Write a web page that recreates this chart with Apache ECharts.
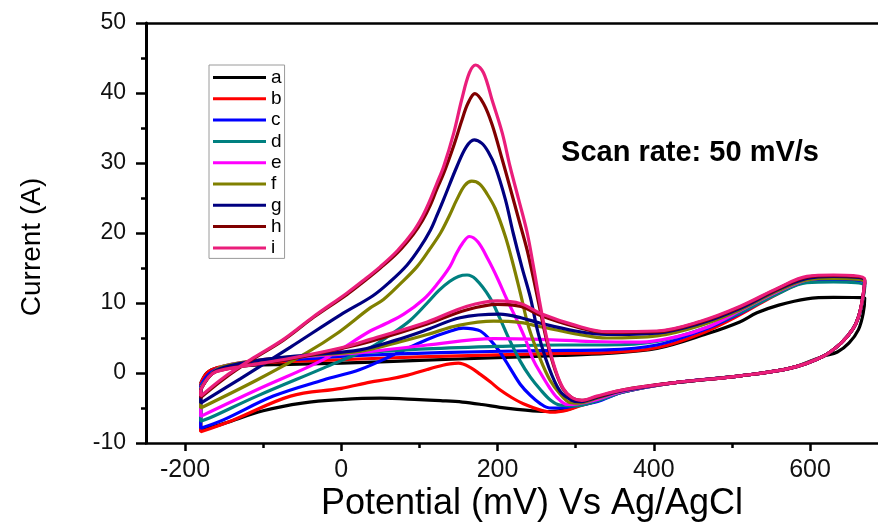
<!DOCTYPE html>
<html>
<head>
<meta charset="utf-8">
<script src="https://cdn.jsdelivr.net/npm/echarts@6/dist/echarts.min.js"></script>
<style>
html,body{margin:0;padding:0;background:#fff;}
#chart{width:878px;height:527px;}
</style>
</head>
<body>
<div id="chart"></div>
<script>
// ---- data (potential mV, current A), each loop ----
const seriesNames = ['a','b','c','d','e','f','g','h','i'];
const seriesColors = ['#000000','#ff0000','#0000ff','#008080','#ff00ff','#808000','#000080','#800000','#ea1e7b'];

const curveA = [[-180,-1.5],[-172,0],[-160,0.7],[-130,1.0],[-80,1.2],[0,1.4],[100,1.8],[200,2.2],[280,2.5],[340,2.8],[404,3.5],[468,5.6],[510,7.3],[532,8.6],[560,9.7],[596,10.6],[630,10.8],[670,10.7],
  [668,8.5],[662,6.2],[650,4.3],[635,3.0],[617,2.4],[575,0.7],[511,-0.4],[425,-1.4],[361,-2.5],[327,-3.5],[305,-4.6],[290,-5.2],[267,-5.5],[245,-5.4],[225,-5.2],[203,-4.9],[180,-4.5],[155,-4.15],[127,-3.95],[100,-3.8],[50,-3.6],[0,-3.8],[-50,-4.3],[-100,-5.4],[-150,-7.2],[-180,-8.2],[-180,-1.5]];

const curveB = [[-180,-1.5],[-170,0.2],[-150,1.0],[-100,1.5],[0,1.9],[100,2.3],[200,2.6],[280,2.8],[340,2.9],[404,3.6],[460,5.6],[510,8.3],[560,11.4],[596,13.1],[630,13.4],[670,13.0],
  [667,10.3],[662,8.0],[655,6.3],[640,4.3],[617,2.4],[575,0.7],[511,-0.4],[425,-1.4],[361,-2.7],[327,-4.0],[305,-4.7],[289,-5.3],[270,-5.6],[255,-5.3],[233,-4.4],[218,-3.5],[203,-2.4],[191,-1.3],[178,-0.2],[165,0.8],[150,1.4],[139,1.3],[130,1.1],[110,0.5],[85,-0.3],[60,-0.9],[37,-1.3],[0,-2.2],[-65,-3.3],[-138,-6.7],[-180,-8.4],[-180,-1.5]];

const curveC = [[-180,-1.8],[-168,0],[-150,0.9],[-100,1.6],[-23,2.2],[24,2.5],[127,2.9],[255,3.2],[340,3.3],[404,4.0],[460,6.0],[510,8.5],[560,11.5],[596,13.1],[630,13.3],[670,12.8],
  [667,10.3],[662,8.0],[655,6.3],[640,4.3],[617,2.4],[575,0.7],[511,-0.4],[425,-1.4],[361,-2.7],[327,-4.1],[298,-4.7],[280,-5.0],[267,-5.0],[255,-4.4],[242,-3.2],[229,-1.6],[216,0.7],[203,3.0],[190,4.8],[178,6.0],[168,6.3],[156,6.4],[140,6.0],[110,4.8],[67,2.6],[24,0.5],[-23,-1.0],[-87,-3.3],[-151,-6.7],[-180,-7.9],[-180,-1.8]];

const curveD = [[-180,-2.0],[-165,0],[-150,1.0],[-100,1.8],[0,2.7],[100,3.4],[200,3.8],[280,4.0],[340,4.0],[404,4.5],[460,6.2],[510,8.6],[560,11.4],[596,12.9],[630,13.0],[670,12.4],
  [667,10.2],[662,8.0],[655,6.3],[640,4.3],[617,2.4],[575,0.7],[511,-0.4],[425,-1.4],[361,-2.7],[327,-4.0],[298,-4.7],[280,-4.6],[268,-3.9],[255,-2.4],[242,-0.6],[229,1.7],[215,4.8],[203,7.8],[190,10.8],[172,13.4],[161,14.0],[150,13.8],[139,13.1],[125,11.8],[110,10.0],[88,7.5],[62,5.4],[37,3.6],[-23,0.7],[-108,-3.3],[-168,-6.4],[-180,-6.9],[-180,-2.0]];

const curveE = [[-180,-2.2],[-165,0],[-150,1.0],[-100,1.9],[-40,2.4],[24,2.9],[110,4.0],[195,4.9],[255,4.8],[320,4.5],[383,4.4],[430,5.2],[470,6.6],[510,8.9],[560,11.7],[596,13.3],[630,13.6],[670,13.1],
  [667,10.4],[662,8.0],[655,6.3],[640,4.3],[617,2.4],[575,0.7],[511,-0.4],[425,-1.4],[361,-2.6],[327,-3.8],[302,-4.4],[289,-4.5],[276,-3.5],[266,-2.0],[255,0],[246,1.8],[235,5.0],[225,7.5],[212,10.5],[200,13.5],[188,16.2],[175,18.7],[164,19.5],[155,18.5],[147,17.0],[139,15.2],[122,12.6],[105,10.5],[80,8.4],[58,7.1],[37,6.0],[-23,1.9],[-108,-2.4],[-180,-6.2],[-180,-2.2]];

const curveF = [[-180,-2.3],[-165,0],[-150,1.0],[-100,1.9],[-40,2.5],[24,3.1],[70,4.3],[110,5.5],[150,6.8],[195,7.4],[230,7.2],[255,6.6],[300,5.6],[340,5.0],[404,5.3],[460,6.8],[510,9.0],[560,11.8],[596,13.3],[630,13.5],[670,12.9],
  [667,10.3],[662,8.0],[655,6.3],[640,4.3],[617,2.4],[575,0.7],[511,-0.4],[425,-1.4],[361,-2.5],[327,-3.6],[303,-4.3],[292,-4.2],[280,-3.0],[267,-1.0],[255,1.9],[240,6.5],[229,11.5],[220,15.5],[210,19.5],[197,23.5],[187,25.5],[177,27.0],[167,27.4],[158,26.8],[148,24.8],[138,22.4],[127,20],[112,17.5],[97,15.2],[76,12.8],[54,10.5],[37,9.3],[-6,5.6],[-44,2.9],[-108,-1.0],[-180,-5.0],[-180,-2.3]];

const curveG = [[-180,-2.4],[-168,-0.3],[-150,0.8],[-100,1.9],[-40,2.6],[24,3.3],[70,4.7],[110,6.2],[152,7.9],[203,8.4],[230,7.9],[255,7.1],[300,6.0],[340,5.5],[404,5.7],[460,7.1],[510,9.2],[560,12.0],[596,13.5],[630,13.8],[670,13.2],
  [667,10.4],[662,8.0],[655,6.3],[640,4.3],[617,2.4],[575,0.7],[511,-0.4],[425,-1.4],[361,-2.5],[327,-3.5],[305,-4.1],[295,-3.9],[280,-2.6],[265,1.0],[252,5.7],[242,10.8],[231,15.2],[220,20],[210,24.8],[197,29.5],[188,31.6],[180,32.8],[170,33.3],[160,32.3],[148,29.5],[131,24.8],[122,22.4],[114,20.4],[100,17.8],[84,15.4],[62,13.0],[40,11],[-1,8.3],[-65,3.7],[-129,-0.8],[-180,-4.3],[-180,-2.4]];

const curveH = [[-180,-2.4],[-170,-0.6],[-160,0.2],[-130,0.9],[-65,2.0],[0,3.5],[37,4.5],[110,7.0],[160,9.0],[200,9.8],[230,9.5],[255,8.2],[300,6.6],[340,5.8],[404,5.9],[460,7.3],[510,9.4],[560,12.1],[596,13.7],[630,13.9],[670,13.3],
  [667,10.5],[662,8.0],[655,6.3],[640,4.3],[617,2.4],[575,0.7],[511,-0.4],[425,-1.4],[361,-2.4],[327,-3.4],[308,-3.9],[296,-3.6],[284,-2.3],[274,0.3],[263,4.6],[255,8.7],[246,13.5],[238,17.5],[227,22],[216,26.5],[206,30.5],[193,35.5],[182,38.5],[171,39.9],[162,38.5],[154,36],[144,32.5],[131,28.5],[122,26.2],[114,24],[104,21.8],[92,19.8],[72,17.2],[50,15],[28,13.0],[7,11.2],[-35,8.0],[-74,4.7],[-116,1.8],[-150,-0.8],[-180,-3.5],[-180,-2.4]];

const curveI = [[-180,-2.4],[-170,-0.6],[-160,0.2],[-130,0.9],[-65,2.1],[0,3.6],[37,4.8],[110,7.3],[160,9.5],[200,10.3],[230,9.9],[255,8.5],[300,6.8],[340,5.9],[404,6.0],[460,7.4],[510,9.5],[560,12.2],[596,13.8],[630,14.0],[670,13.4],
  [667,10.5],[662,8.0],[655,6.3],[640,4.3],[617,2.4],[575,0.7],[511,-0.4],[425,-1.4],[361,-2.4],[327,-3.3],[308,-3.9],[295,-3.5],[284,-2.2],[274,0.5],[263,5.0],[255,9.5],[246,15.2],[238,20],[227,24.8],[216,29.5],[206,34.3],[193,39],[182,42.9],[172,44.0],[164,42.9],[154,39],[144,34.3],[131,29.5],[122,27.0],[114,24.8],[104,22.4],[92,20.2],[72,17.5],[50,15.2],[28,13.2],[7,11.4],[-35,8.1],[-74,4.8],[-116,1.9],[-150,-0.6],[-180,-3.3],[-180,-2.4]];

const curves = [curveA, curveB, curveC, curveD, curveE, curveF, curveG, curveH, curveI];

const xMajorTicks = [-200, 0, 200, 400, 600];
const xMinorTicks = [-100, 100, 300, 500];
const xRange = [-250, 687];
const yRange = [-10, 50];
const yStep = 10;

const xTitle = 'Potential (mV) Vs Ag/AgCl';
const yTitle = 'Current (A)';
const note = 'Scan rate: 50 mV/s';

// ---- chart ----
const FONT = '"Liberation Sans", Arial, Helvetica, sans-serif';
const chart = echarts.init(document.getElementById('chart'), null, {renderer: 'canvas'});

const series = curves.map((c, i) => ({
  name: seriesNames[i],
  type: 'line',
  data: c,
  xAxisIndex: 0,
  yAxisIndex: 0,
  smooth: 0.35,
  symbol: 'none',
  showSymbol: false,
  clip: true,
  lineStyle: {color: seriesColors[i], width: 3.2},
  itemStyle: {color: seriesColors[i]},
  emphasis: {disabled: true},
  z: 2 + i
}));

const option = {
  animation: false,
  backgroundColor: '#ffffff',
  grid: {left: 146, right: 0, top: 23, bottom: 84, containLabel: false},
  legend: {
    orient: 'vertical',
    left: 209, top: 65,
    data: seriesNames,
    itemWidth: 53, itemHeight: 16, itemGap: 2.3,
    padding: [3, 3, 1, 2.5],
    borderColor: '#9a9a9a', borderWidth: 1,
    selectedMode: false,
    itemStyle: {color: 'rgba(0,0,0,0)', borderColor: 'rgba(0,0,0,0)', borderWidth: 0},
    lineStyle: {width: 3},
    textStyle: {fontFamily: FONT, fontSize: 19, lineHeight: 19, color: '#000'}
  },
  xAxis: [
    {
      type: 'value', min: xRange[0], max: xRange[1], position: 'bottom',
      axisLine: {show: true, onZero: false, lineStyle: {color: '#000', width: 2.5}},
      axisTick: {show: true, inside: false, length: 8, customValues: xMajorTicks, lineStyle: {color: '#000', width: 2.5}},
      axisLabel: {show: true, customValues: xMajorTicks, fontFamily: FONT, fontSize: 25, color: '#111', margin: 15},
      splitLine: {show: false}
    },
    {
      type: 'value', min: xRange[0], max: xRange[1], position: 'bottom',
      axisLine: {show: false, onZero: false},
      axisTick: {show: true, inside: false, length: 5, customValues: xMinorTicks, lineStyle: {color: '#000', width: 2.5}},
      axisLabel: {show: false},
      splitLine: {show: false}
    },
    {
      type: 'value', min: xRange[0], max: xRange[1], position: 'top',
      axisLine: {show: true, onZero: false, lineStyle: {color: '#000', width: 2.5}},
      axisTick: {show: false}, axisLabel: {show: false}, splitLine: {show: false}
    }
  ],
  yAxis: [{
    type: 'value', min: yRange[0], max: yRange[1], interval: yStep,
    axisLine: {show: true, onZero: false, lineStyle: {color: '#000', width: 3}},
    axisTick: {show: true, inside: false, length: 10, lineStyle: {color: '#000', width: 2.5}},
    minorTick: {show: true, splitNumber: 2, length: 5, lineStyle: {color: '#000', width: 2.5}},
    axisLabel: {fontFamily: FONT, fontSize: 23, color: '#111', margin: 20},
    splitLine: {show: false},
    minorSplitLine: {show: false}
  }],
  graphic: [
    {type: 'text', x: 532, y: 504, silent: true,
     style: {text: xTitle, fill: '#000', font: '36px ' + FONT, textAlign: 'center', textVerticalAlign: 'middle'}},
    {type: 'text', x: 32, y: 247, rotation: Math.PI / 2, silent: true,
     style: {text: yTitle, fill: '#000', font: '28px ' + FONT, textAlign: 'center', textVerticalAlign: 'middle'}},
    {type: 'text', x: 690, y: 153, silent: true,
     style: {text: note, fill: '#000', font: 'bold 29px ' + FONT, textAlign: 'center', textVerticalAlign: 'middle'}}
  ],
  series: series
};
chart.setOption(option);
</script>
</body>
</html>
